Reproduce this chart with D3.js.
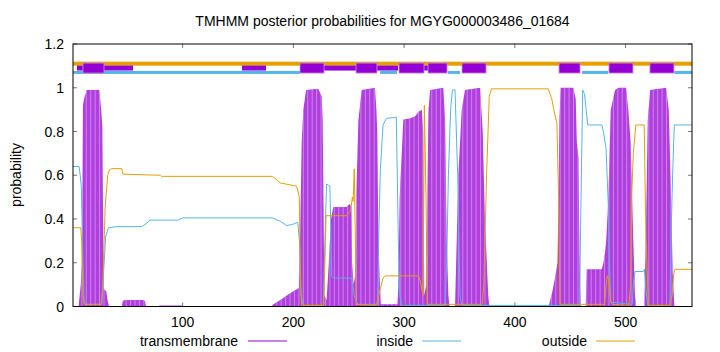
<!DOCTYPE html>
<html>
<head>
<meta charset="utf-8">
<script src="https://cdn.jsdelivr.net/npm/d3@7"></script>
<style>
  body { margin: 0; background: #fff; }
  svg { display: block; font-family: "Liberation Sans", Arial, sans-serif; }
</style>
</head>
<body>
<svg id="chart" width="720" height="352"></svg>
<script>
// posterior probabilities, [residue, probability]
const insideProb = [
  [1, 0.64], [6.5, 0.64], [7.5, 0.6], [8.5, 0.55], [10, 0.2], [11, 0.03], [12, 0.01], [27, 0.01],
  [28, 0.1], [30.5, 0.32], [33, 0.36], [40, 0.365], [63, 0.365], [67.5, 0.38], [70.5, 0.395],
  [96, 0.395], [100, 0.405], [181, 0.405], [188, 0.39], [194, 0.37], [199, 0.375], [204, 0.385],
  [205.5, 0.3], [207, 0.05], [209, 0.005], [227, 0.005], [228.5, 0.3], [230, 0.56], [233, 0.55],
  [234.6, 0.14], [236, 0.13], [252.7, 0.13], [255, 0.05], [258, 0.01], [276, 0.01], [277, 0.3],
  [278.5, 0.62], [281, 0.83], [284, 0.86], [293, 0.865], [294.8, 0.3], [296, 0.05], [298, 0.005],
  [337, 0.005], [338.5, 0.2], [340, 0.6], [342, 0.9], [343.6, 0.99], [346, 0.99], [348.4, 0.6],
  [350.5, 0.05], [352, 0.005], [458.5, 0.005], [459.5, 0.4], [461.3, 0.99], [463, 0.97],
  [465.8, 0.83], [478.5, 0.83], [480, 0.8], [482.4, 0.72], [484.5, 0.45], [485.5, 0.2],
  [486.6, 0.02], [506, 0.01], [507, 0.1], [508.5, 0.16], [516, 0.16], [517, 0.17], [518, 0.1],
  [520, 0.005], [540, 0.005], [541, 0.3], [542.5, 0.6], [544, 0.83], [560, 0.83]
];

const outsideProb = [
  [1, 0.36], [8, 0.36], [8.8, 0.3], [10, 0.05], [11, 0.01], [26.5, 0.01], [28, 0.1], [30, 0.45],
  [32.3, 0.6], [34, 0.625], [36, 0.63], [45, 0.63], [46, 0.605], [80, 0.6], [81, 0.595],
  [181, 0.595], [185, 0.58], [188, 0.565], [203, 0.55], [205.4, 0.5], [206.5, 0.1], [207.5, 0.005],
  [227.5, 0.005], [229, 0.3], [229.5, 0.415], [248, 0.415], [251, 0.43], [252, 0.45], [253.3, 0.5],
  [254, 0.48], [255, 0.63], [256, 0.3], [256.6, 0.01], [275, 0.005], [277, 0.05], [281, 0.13],
  [283, 0.14], [312.9, 0.14], [314.5, 0.12], [316, 0.08], [317.2, 0.05], [318.3, 0.92],
  [319.8, 0.5], [321, 0.01], [370.5, 0.01], [372, 0.1], [374.5, 0.6], [376.9, 0.96], [379, 0.995],
  [430.2, 0.995], [433.3, 0.95], [436, 0.88], [438, 0.84], [439.5, 0.5], [440.8, 0.01], [481, 0.01],
  [482.5, 0.1], [483.5, 0.14], [485, 0.12], [486.5, 0.02], [488, 0.01], [503, 0.005], [504.5, 0.1],
  [505.5, 0.5], [507, 0.7], [509.3, 0.83], [516.8, 0.83], [518.5, 0.3], [520.6, 0.005], [540, 0.005],
  [542, 0.05], [543.5, 0.15], [544.5, 0.17], [560, 0.17]
];

const tmProb = [
  [1, 0], [6, 0], [7, 0.05], [8, 0.1], [9, 0.2], [9.5, 0.5], [10, 0.92], [11, 0.95], [13.4, 0.99],
  [24.7, 0.99], [26.5, 0.9], [27.5, 0.82], [28, 0.5], [28.8, 0.08], [31, 0.07], [32.5, 0.02], [34, 0],
  [45, 0], [46, 0.025], [48, 0.03], [64, 0.03], [66, 0.025], [67, 0], [78, 0], [79, 0.005],
  [100, 0.005], [101, 0], [180, 0], [182, 0.01], [185, 0.02], [190, 0.035], [194, 0.05], [200, 0.07],
  [205, 0.085], [206, 0.3], [207.5, 0.75], [209, 0.9], [211.5, 0.99], [222.5, 0.995], [225.6, 0.96],
  [226.5, 0.85], [227.2, 0.5], [228, 0.05], [230, 0.03], [232, 0.2], [234, 0.4], [236, 0.455],
  [248, 0.455], [251, 0.47], [252.5, 0.45], [253, 0.2], [254.5, 0.1], [256, 0.15], [256.8, 0.5],
  [258.7, 0.85], [261.7, 0.99], [273.7, 1.0], [275, 0.9], [275.8, 0.8], [276.8, 0.3], [278, 0.12],
  [279, 0.01], [294, 0.01], [294.8, 0.1], [296, 0.5], [299.3, 0.855], [305, 0.86], [310, 0.87],
  [313, 0.89], [316, 0.9], [317.2, 0.8], [318.2, 0.05], [320, 0.1], [321, 0.5], [322, 0.9],
  [323.5, 0.99], [335.4, 1.0], [337, 0.85], [338.5, 0.3], [340, 0.05], [341, 0], [346, 0],
  [347.5, 0.3], [349, 0.6], [352, 0.9], [355, 0.99], [368.6, 1.0], [371, 0.8], [373, 0.4],
  [376, 0.05], [377, 0], [430, 0], [431, 0.01], [433.3, 0.055], [436.3, 0.13], [438.5, 0.2],
  [439.5, 0.5], [440.2, 0.85], [441.4, 1.0], [452.8, 1.0], [455, 0.95], [456, 0.75], [457.5, 0.68],
  [458.5, 0.2], [459.5, 0], [464, 0], [465, 0.17], [478.5, 0.17], [480, 0.2], [481.4, 0.245],
  [482.5, 0.3], [484.5, 0.5], [486.6, 0.9], [490.5, 0.99], [493.5, 1.0], [500.4, 1.0], [502.5, 0.9],
  [504.6, 0.75], [507, 0.3], [508.5, 0.05], [509.5, 0], [517, 0], [518.6, 0.4], [520, 0.85],
  [522.2, 0.99], [536.6, 1.0], [539, 0.9], [541.1, 0.5], [542.6, 0.15], [544.1, 0], [560, 0]
];

// predicted topology along the top, [start, end] residues
const helixSpans = [[10, 29], [206, 227.7], [256.6, 275.5], [295.4, 318], [321.6, 338.8],
  [352.3, 374], [439.9, 458.9], [485, 506.7], [522, 543.7]];
const thinSpans = [[4.6, 55.2], [153.6, 175.3], [227.7, 256.6], [275.5, 294.5], [318, 321.6]];
const insideSpans = [[1, 206], [278.3, 293.6], [339.7, 350.5], [460.7, 484.2], [544, 560]];
const outsideSpans = [[1, 560]];

const xTicks = [100, 200, 300, 400, 500];
const yTicks = [0, 0.2, 0.4, 0.6, 0.8, 1, 1.2];
const legendItems = [
  { name: 'transmembrane', color: '#9400d3' },
  { name: 'inside', color: '#56b4e9' },
  { name: 'outside', color: '#e69f00' },
];

const COLORS = { tm: '#b13fe0', inside: '#56b4e9', outside: '#e69f00', helix: '#9400d3' };
const M = { left: 73, right: 692, top: 44, bottom: 306.5 };

const svg = d3.select('#chart');
const x = d3.scaleLinear().domain([1, 560]).range([M.left, M.right]);
const y = d3.scaleLinear().domain([0, 1.2]).range([M.bottom, M.top]);

svg.append('text')
  .attr('x', (M.left + M.right) / 2).attr('y', 26)
  .attr('text-anchor', 'middle').style('font-size', '14px')
  .text('TMHMM posterior probabilities for MGYG000003486_01684');

svg.append('defs').append('clipPath').attr('id', 'plot-clip')
  .append('rect').attr('x', M.left).attr('y', M.top)
  .attr('width', M.right - M.left).attr('height', M.bottom - M.top);

const plot = svg.append('g').attr('clip-path', 'url(#plot-clip)');

// transmembrane impulses, drawn as a filled area with faint stripes
const area = d3.area().x((d) => x(d[0])).y0(y(0)).y1((d) => y(d[1]));
plot.append('path').datum(tmProb).attr('d', area).attr('fill', COLORS.tm);

const stripes = plot.append('g').attr('clip-path', 'url(#tm-clip)');
svg.select('defs').append('clipPath').attr('id', 'tm-clip')
  .append('path').datum(tmProb).attr('d', area);
stripes.selectAll('line')
  .data(d3.range(1, 561, 4))
  .join('line')
  .attr('x1', (d) => x(d)).attr('x2', (d) => x(d))
  .attr('y1', M.top).attr('y2', M.bottom)
  .attr('stroke', '#d9a0f2').attr('stroke-width', 0.7);

const line = d3.line().x((d) => x(d[0])).y((d) => y(d[1]));
plot.append('path').datum(insideProb).attr('d', line)
  .attr('fill', 'none').attr('stroke', COLORS.inside).attr('stroke-width', 1);
plot.append('path').datum(outsideProb).attr('d', line)
  .attr('fill', 'none').attr('stroke', COLORS.outside).attr('stroke-width', 1);

// topology bars
const bars = plot.append('g');
bars.selectAll('.out').data(outsideSpans).join('rect').attr('class', 'out')
  .attr('x', (d) => x(d[0])).attr('width', (d) => x(d[1]) - x(d[0]))
  .attr('y', y(1.11) - 2).attr('height', 4).attr('fill', COLORS.outside);
bars.selectAll('.in').data(insideSpans).join('rect').attr('class', 'in')
  .attr('x', (d) => x(d[0])).attr('width', (d) => x(d[1]) - x(d[0]))
  .attr('y', y(1.07) - 1.5).attr('height', 3).attr('fill', COLORS.inside);
bars.selectAll('.thin').data(thinSpans).join('rect').attr('class', 'thin')
  .attr('x', (d) => x(d[0])).attr('width', (d) => x(d[1]) - x(d[0]))
  .attr('y', y(1.09) - 2.5).attr('height', 5).attr('fill', COLORS.helix);
bars.selectAll('.helix').data(helixSpans).join('rect').attr('class', 'helix')
  .attr('x', (d) => x(d[0])).attr('width', (d) => x(d[1]) - x(d[0]))
  .attr('y', y(1.09) - 5).attr('height', 10).attr('fill', COLORS.helix)
  .attr('stroke', '#c890ea').attr('stroke-width', 0.8);

// frame and ticks
const axes = svg.append('g').attr('stroke', '#000');
axes.selectAll('.xt').data(xTicks).join('g').attr('class', 'xt').each(function (d) {
  const g = d3.select(this);
  g.append('line').attr('x1', x(d)).attr('x2', x(d)).attr('y1', M.bottom).attr('y2', M.bottom - 4)
    .attr('stroke', '#777');
  g.append('line').attr('x1', x(d)).attr('x2', x(d)).attr('y1', M.top).attr('y2', M.top + 4)
    .attr('stroke', '#777');
});
axes.selectAll('.yt').data(yTicks).join('g').attr('class', 'yt').each(function (d) {
  const g = d3.select(this);
  g.append('line').attr('x1', M.left).attr('x2', M.left + 4).attr('y1', y(d)).attr('y2', y(d))
    .attr('stroke', '#777');
  g.append('line').attr('x1', M.right).attr('x2', M.right - 4).attr('y1', y(d)).attr('y2', y(d))
    .attr('stroke', '#777');
});
svg.append('rect').attr('x', M.left).attr('y', M.top)
  .attr('width', M.right - M.left).attr('height', M.bottom - M.top)
  .attr('fill', 'none').attr('stroke', '#000').attr('stroke-width', 1);

svg.selectAll('.xl').data(xTicks).join('text').attr('class', 'xl')
  .attr('x', (d) => x(d)).attr('y', 327).attr('text-anchor', 'middle')
  .style('font-size', '14px').text((d) => d);
svg.selectAll('.yl').data(yTicks).join('text').attr('class', 'yl')
  .attr('x', 64).attr('y', (d) => y(d) + 5).attr('text-anchor', 'end')
  .style('font-size', '14px').text((d) => d3.format('~g')(d));

svg.append('text').attr('transform', 'translate(21,175) rotate(-90)')
  .attr('text-anchor', 'middle').style('font-size', '14px').text('probability');

// legend
const legendX = [{ textEnd: 238, lineStart: 248 }, { textEnd: 413, lineStart: 422 }, { textEnd: 587, lineStart: 596 }];
const legend = svg.append('g').selectAll('g').data(legendItems).join('g');
legend.append('text').attr('x', (d, i) => legendX[i].textEnd).attr('y', 346)
  .attr('text-anchor', 'end').style('font-size', '14px').text((d) => d.name);
legend.append('line').attr('x1', (d, i) => legendX[i].lineStart).attr('x2', (d, i) => legendX[i].lineStart + 39)
  .attr('y1', 341).attr('y2', 341).attr('stroke', (d) => d.color).attr('stroke-width', 1);
</script>
</body>
</html>
